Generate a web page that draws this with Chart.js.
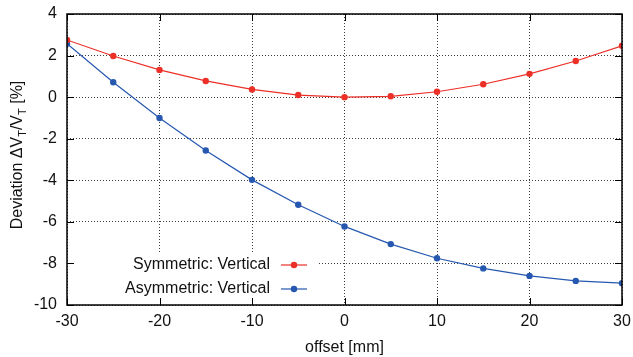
<!DOCTYPE html>
<html>
<head>
<meta charset="utf-8">
<script src="https://cdn.jsdelivr.net/npm/chart.js@4"></script>
<style>
  html, body { margin: 0; padding: 0; background: #fff; }
  #wrap { width: 633px; height: 357px; }
</style>
</head>
<body>
<div id="wrap"><canvas id="chart"></canvas></div>
<script>
// values
const offsets = [-30, -25, -20, -15, -10, -5, 0, 5, 10, 15, 20, 25, 30];
const symmetricVertical = [2.75, 1.98, 1.31, 0.78, 0.37, 0.1, 0.0, 0.04, 0.26, 0.62, 1.12, 1.74, 2.47];
const asymmetricVertical = [2.57, 0.72, -1.0, -2.57, -3.98, -5.18, -6.22, -7.07, -7.75, -8.24, -8.6, -8.84, -8.95];
const seriesNames = ['Symmetric: Vertical', 'Asymmetric: Vertical'];

const RED = 'rgb(236, 48, 40)';
const BLUE = 'rgb(38, 88, 176)';
const FONT = '"Liberation Sans", Arial, sans-serif';

function points(ys) {
    return offsets.map((x, i) => ({ x: x, y: ys[i] }));
}

// gnuplot-ish frame: legend box, inward ticks, border, rotated y label
const framePlugin = {
    id: 'frame',
    beforeDatasetsDraw(chart) {
        const ctx = chart.ctx;
        const a = chart.chartArea;
        ctx.save();
        ctx.fillStyle = '#fff';
        ctx.fillRect(a.left + 1, 253, 316 - a.left, a.bottom - 253);
        ctx.restore();
    },
    afterDatasetsDraw(chart) {
        const ctx = chart.ctx;
        const a = chart.chartArea;
        const xs = chart.scales.x, ys = chart.scales.y;
        ctx.save();

        // legend
        ctx.font = '16px ' + FONT;
        ctx.textAlign = 'right';
        ctx.textBaseline = 'middle';
        const rows = [265, 289];
        const cols = [RED, BLUE];
        rows.forEach((ry, i) => {
            ctx.fillStyle = '#111';
            ctx.fillText(seriesNames[i], 270, ry);
            ctx.strokeStyle = cols[i];
            ctx.lineWidth = 1.2;
            ctx.beginPath();
            ctx.moveTo(281, ry);
            ctx.lineTo(307, ry);
            ctx.stroke();
            ctx.fillStyle = cols[i];
            ctx.beginPath();
            ctx.arc(294, ry, 3.2, 0, Math.PI * 2);
            ctx.fill();
        });

        // inward ticks
        ctx.strokeStyle = '#000';
        ctx.lineWidth = 1;
        const tl = 7;
        ys.ticks.forEach(t => {
            const py = Math.round(ys.getPixelForValue(t.value)) + 0.5;
            ctx.beginPath();
            ctx.moveTo(a.left, py); ctx.lineTo(a.left + tl, py);
            ctx.moveTo(a.right, py); ctx.lineTo(a.right - tl, py);
            ctx.stroke();
        });
        xs.ticks.forEach(t => {
            const px = Math.round(xs.getPixelForValue(t.value)) + 0.5;
            ctx.beginPath();
            ctx.moveTo(px, a.top); ctx.lineTo(px, a.top + tl);
            ctx.moveTo(px, a.bottom); ctx.lineTo(px, a.bottom - tl);
            ctx.stroke();
        });

        // border
        ctx.lineWidth = 1.5;
        ctx.strokeRect(a.left, a.top, a.right - a.left, a.bottom - a.top);

        // y axis title with subscripts
        ctx.translate(18, 155);
        ctx.rotate(-Math.PI / 2);
        ctx.fillStyle = '#111';
        ctx.textAlign = 'left';
        ctx.textBaseline = 'middle';
        const parts = [
            ['Deviation \u0394V', false], ['T', true], ['/V', false], ['T', true], [' [%]', false]
        ];
        let w = 0;
        parts.forEach(p => {
            ctx.font = (p[1] ? '11px ' : '16px ') + FONT;
            w += ctx.measureText(p[0]).width;
        });
        let cx = -w / 2;
        parts.forEach(p => {
            ctx.font = (p[1] ? '11px ' : '16px ') + FONT;
            ctx.fillText(p[0], cx, p[1] ? 5 : 0);
            cx += ctx.measureText(p[0]).width;
        });
        ctx.restore();
    }
};

const data = {
    datasets: [{
        label: seriesNames[0],
        data: points(symmetricVertical),
        borderColor: RED,
        backgroundColor: RED,
        borderWidth: 1.2,
        pointRadius: 3.2,
        pointBorderWidth: 0,
        tension: 0
    },
    {
        label: seriesNames[1],
        data: points(asymmetricVertical),
        borderColor: BLUE,
        backgroundColor: BLUE,
        borderWidth: 1.2,
        pointRadius: 3.2,
        pointBorderWidth: 0,
        tension: 0
    }]
};

const gridStyle = {
    color: 'rgba(0,0,0,0.75)',
    lineWidth: 1,
    drawTicks: false
};

const config = {
    type: 'line',
    data: data,
    options: {
        responsive: true,
        maintainAspectRatio: false,
        animation: false,
        layout: { padding: { left: 0, right: 11, top: 14, bottom: 0 } },
        plugins: {
            legend: { display: false },
            tooltip: { enabled: false }
        },
        scales: {
            x: {
                type: 'linear',
                min: -30,
                max: 30,
                ticks: { stepSize: 10, color: '#111', font: { family: FONT, size: 16 }, padding: 7, maxRotation: 0 },
                grid: gridStyle,
                border: { display: false, dash: [1, 2] },
                title: { display: true, text: 'offset [mm]', color: '#111', font: { family: FONT, size: 16 }, padding: { top: 4, bottom: 0 } },
                afterFit(scale) {
                    scale.height = 52;
                    scale.paddingLeft = 0;
                    scale.paddingRight = 0;
                }
            },
            y: {
                min: -10,
                max: 4,
                ticks: { stepSize: 2, color: '#111', font: { family: FONT, size: 16 }, padding: 10 },
                grid: gridStyle,
                border: { display: false, dash: [1, 2] },
                afterFit(scale) {
                    scale.width = 67;
                    scale.paddingTop = 0;
                    scale.paddingBottom = 0;
                }
            }
        }
    },
    plugins: [framePlugin]
};

new Chart(document.getElementById('chart'), config);
</script>
</body>
</html>
